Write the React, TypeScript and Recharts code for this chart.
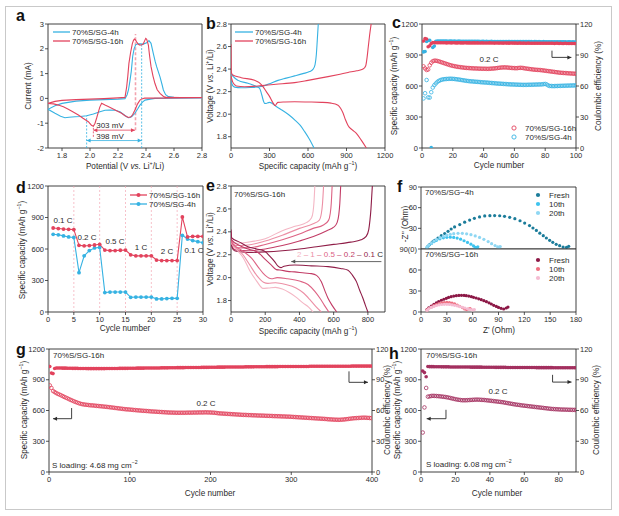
import React from 'react';
import {
  LineChart, Line, ScatterChart, Scatter, XAxis, YAxis,
  ReferenceLine, ReferenceArea, ReferenceDot,
} from 'recharts';

const FONT = '"Liberation Sans", Arial, Helvetica, sans-serif';
const INK = '#2b2b2b';
const BLUE = '#36b2e2';
const RED = '#e2435d';
const MAROON = '#a3305f';

// ---------- a: CV curves (potential V, current mA), in scan order
const aBlue = [
  [1.7, -0.44], [1.75, -0.3], [1.8, -0.2], [1.9, -0.11], [2.0, -0.07], [2.1, -0.05], [2.2, -0.03], [2.25, -0.01],
  [2.265, 0.15], [2.275, 0.35], [2.285, 0.7], [2.295, 1.1], [2.305, 1.7], [2.315, 2.0], [2.326, 2.16], [2.34, 2.2],
  [2.357, 2.2], [2.38, 2.19], [2.405, 2.24], [2.421, 2.33], [2.436, 2.22], [2.452, 1.82], [2.465, 1.5], [2.476, 1.28],
  [2.5, 0.87], [2.515, 0.55], [2.524, 0.34], [2.54, 0.15], [2.56, 0.07], [2.6, 0.04], [2.7, 0.03], [2.8, 0.03],
  [2.8, 0.02], [2.6, 0.01], [2.464, 0.0], [2.43, -0.03], [2.393, -0.07], [2.375, -0.15], [2.357, -0.27], [2.34, -0.43],
  [2.321, -0.6], [2.3, -0.72], [2.286, -0.77], [2.274, -0.78], [2.262, -0.74], [2.24, -0.65], [2.214, -0.54], [2.18, -0.48],
  [2.14, -0.47], [2.107, -0.48], [2.071, -0.54], [2.024, -0.63], [1.976, -0.7], [1.93, -0.73], [1.893, -0.74], [1.85, -0.76],
  [1.821, -0.78], [1.79, -0.72], [1.75, -0.6], [1.7, -0.44],
];
const aRed = [
  [1.7, -0.2], [1.75, -0.12], [1.8, -0.08], [1.9, -0.05], [2.0, -0.03], [2.1, -0.01], [2.2, 0.02], [2.25, 0.04],
  [2.262, 0.47], [2.27, 0.9], [2.278, 1.41], [2.29, 1.85], [2.302, 2.2], [2.31, 2.33], [2.317, 2.39], [2.325, 2.36],
  [2.333, 2.28], [2.345, 2.18], [2.357, 2.15], [2.37, 2.16], [2.38, 2.19], [2.39, 2.32], [2.398, 2.42], [2.405, 2.38],
  [2.417, 2.15], [2.426, 1.7], [2.436, 1.28], [2.45, 0.9], [2.464, 0.6], [2.48, 0.35], [2.5, 0.2], [2.525, 0.08],
  [2.548, 0.04], [2.65, 0.03], [2.8, 0.03],
  [2.6, 0.02], [2.45, 0.01], [2.39, 0.01], [2.37, -0.02], [2.357, -0.07], [2.34, -0.22], [2.321, -0.47], [2.305, -0.65],
  [2.293, -0.74], [2.274, -0.77], [2.25, -0.7], [2.226, -0.6], [2.19, -0.5], [2.155, -0.4], [2.13, -0.33], [2.107, -0.27],
  [2.09, -0.22], [2.083, -0.2], [2.07, -0.35], [2.06, -0.54], [2.048, -0.78], [2.036, -1.0], [2.024, -1.12], [2.01, -1.08],
  [1.988, -0.94], [1.95, -0.8], [1.917, -0.67], [1.88, -0.55], [1.845, -0.44], [1.81, -0.34], [1.774, -0.27], [1.74, -0.22],
  [1.7, -0.2],
];

// ---------- b: charge / discharge profiles (mAh/g, V)
const bBlueCharge = [[0, 2.3], [10, 2.26], [29, 2.24], [80, 2.235], [150, 2.237], [236, 2.245], [300, 2.27], [366, 2.3], [430, 2.32], [496, 2.34], [560, 2.36], [613, 2.378], [640, 2.4], [655, 2.44], [665, 2.53], [672, 2.65], [680, 2.8]];
const bBlueDis = [[0, 2.36], [20, 2.33], [55, 2.3], [132, 2.274], [190, 2.25], [223, 2.23], [240, 2.17], [255, 2.11], [262, 2.096], [275, 2.095], [283, 2.1], [301, 2.105], [350, 2.07], [392, 2.04], [450, 1.995], [496, 1.95], [540, 1.9], [574, 1.845], [610, 1.78], [647, 1.7]];
const bRedCharge = [[0, 2.34], [15, 2.28], [42, 2.25], [106, 2.244], [236, 2.253], [350, 2.265], [496, 2.28], [600, 2.3], [756, 2.333], [850, 2.355], [912, 2.37], [980, 2.385], [1029, 2.4], [1050, 2.43], [1060, 2.5], [1070, 2.6], [1080, 2.7], [1092, 2.8]];
const bRedDis = [[0, 2.62], [2, 2.38], [10, 2.35], [80, 2.324], [184, 2.3], [220, 2.28], [249, 2.245], [275, 2.2], [301, 2.156], [325, 2.105], [345, 2.076], [356, 2.095], [366, 2.105], [420, 2.108], [496, 2.11], [600, 2.108], [704, 2.105], [780, 2.098], [834, 2.08], [855, 2.05], [873, 2.01], [892, 1.95], [912, 1.9], [945, 1.86], [977, 1.83], [1015, 1.77], [1055, 1.7]];

// ---------- c: cycling at 0.2 C, cycles 1..100
const cRedCap = [
  790, 770, 755, 760, 800, 825, 840, 845, 845, 842,
  838, 833, 828, 823, 818, 813, 808, 803, 799, 795,
  792, 789, 786, 784, 782, 780, 778, 776, 775, 774,
  773, 772, 771, 770, 770, 769, 768, 768, 767, 767,
  767, 766, 766, 767, 768, 769, 770, 772, 774, 776,
  778, 779, 780, 780, 779, 778, 776, 775, 774, 773,
  772, 773, 775, 776, 775, 773, 770, 768, 766, 764,
  762, 760, 758, 757, 756, 755, 754, 752, 750, 748,
  746, 744, 742, 740, 738, 736, 734, 732, 730, 728,
  727, 726, 725, 724, 723, 722, 721, 720, 719, 718,
];
const cBlueCap = [
  480, 530, 658, 490, 488, 540, 585, 608, 625, 640,
  650, 657, 662, 665, 667, 668, 669, 670, 670, 669,
  668, 666, 664, 662, 660, 657, 655, 652, 650, 648,
  646, 645, 644, 642, 641, 640, 639, 637, 636, 635,
  634, 633, 632, 630, 629, 628, 627, 625, 624, 623,
  622, 621, 620, 619, 618, 617, 616, 615, 615, 614,
  613, 613, 612, 612, 611, 611, 611, 611, 612, 612,
  612, 613, 613, 614, 614, 615, 615, 616, 618, 620,
  615, 605, 600, 600, 599, 599, 600, 600, 601, 601,
  602, 602, 603, 603, 604, 604, 605, 605, 606, 606,
];
const cRedCE = [
  103.5, 106, 105.5, 98, 99, 101.2, 102, 102, 101.9, 101.9,
  101.8, 101.8, 101.9, 101.8, 101.8, 101.7, 101.8, 101.8, 101.7, 101.8,
  101.8, 101.7, 101.7, 101.8, 101.7, 101.7, 101.7, 101.8, 101.7, 101.7,
  101.7, 101.6, 101.7, 101.7, 101.6, 101.7, 101.6, 101.6, 101.7, 101.6,
  101.6, 101.6, 101.6, 101.7, 101.6, 101.6, 101.5, 101.6, 101.6, 101.5,
  101.6, 101.5, 101.5, 101.6, 101.5, 101.5, 101.5, 101.6, 101.5, 101.5,
  101.5, 101.4, 101.5, 101.5, 101.4, 101.5, 101.4, 101.4, 101.5, 101.4,
  101.4, 101.4, 101.4, 101.3, 101.4, 101.4, 101.3, 101.4, 101.3, 101.3,
  101.3, 101.3, 101.4, 101.3, 101.3, 101.2, 101.3, 101.3, 101.2, 101.3,
  101.2, 101.2, 101.3, 101.2, 101.2, 101.2, 101.1, 101.2, 101.2, 101.1,
];
const cBlueCE = [
  93, 93.4, 103, 104, 104.2, 0.5, 97.2, 98.6, 103.2, 103.5,
  103.4, 103.5, 103.4, 103.4, 103.5, 103.4, 103.3, 103.4, 103.4, 103.3,
  103.4, 103.3, 103.3, 103.4, 103.3, 103.3, 103.2, 103.3, 103.3, 103.2,
  103.3, 103.2, 103.2, 103.3, 103.2, 103.2, 103.2, 103.1, 103.2, 103.2,
  103.1, 103.2, 103.1, 103.1, 103.2, 103.1, 103.1, 103.1, 103.0, 103.1,
  103.1, 103.0, 103.1, 103.0, 103.0, 103.1, 103.0, 103.0, 103.0, 102.9,
  103.0, 103.0, 102.9, 103.0, 102.9, 102.9, 103.0, 102.9, 102.9, 102.9,
  102.9, 102.8, 102.9, 102.9, 102.8, 102.9, 102.8, 102.8, 102.9, 102.8,
  102.8, 102.8, 102.7, 102.8, 102.8, 102.7, 102.8, 102.7, 102.7, 102.8,
  102.7, 102.7, 102.7, 102.6, 102.7, 102.7, 102.6, 102.7, 102.6, 102.6,
];

// ---------- d: rate capability, cycles 1..30
const dRed = [800, 795, 790, 787, 785, 635, 630, 633, 638, 645, 590, 585, 585, 588, 590, 545, 535, 535, 535, 535, 495, 490, 490, 490, 490, 905, 715, 720, 720, 720];
const dBlue = [740, 735, 725, 715, 710, 375, 535, 585, 610, 615, 185, 190, 190, 190, 190, 140, 142, 142, 142, 142, 125, 125, 128, 130, 130, 730, 695, 680, 670, 660];
const dRates = [5, 10, 15, 20, 25];

// ---------- e: 70%S/SG-16h profiles at 2, 1, 0.5, 0.2, 0.1 C
const eRates = ['2', '1', '0.5', '0.2', '0.1'];
const eColors = ['#f4b6c4', '#ec8fa5', '#dd6384', '#c23c66', '#8f1d47'];
const eDis = [
  [[0, 2.36], [3, 2.3], [30, 2.25], [73, 2.17], [110, 2.06], [150, 1.97], [187, 1.906], [220, 1.91], [260, 1.915], [300, 1.9], [340, 1.87], [380, 1.83], [420, 1.78], [455, 1.74], [480, 1.7]],
  [[0, 2.37], [3, 2.3], [30, 2.26], [70, 2.2], [110, 2.11], [150, 2.02], [190, 1.96], [216, 1.95], [260, 1.955], [320, 1.94], [380, 1.91], [420, 1.87], [460, 1.81], [495, 1.75], [528, 1.7]],
  [[0, 2.38], [3, 2.31], [40, 2.26], [80, 2.22], [120, 2.17], [160, 2.09], [200, 2.02], [236, 1.99], [270, 2.0], [330, 1.99], [400, 1.97], [450, 1.94], [490, 1.88], [520, 1.82], [545, 1.76], [572, 1.7]],
  [[0, 2.4], [3, 2.33], [50, 2.28], [100, 2.25], [158, 2.22], [200, 2.16], [236, 2.11], [265, 2.07], [285, 2.067], [330, 2.055], [372, 2.05], [430, 2.04], [469, 2.035], [500, 2.02], [528, 1.965], [550, 1.88], [567, 1.82], [590, 1.76], [618, 1.7]],
  [[0, 2.42], [3, 2.35], [50, 2.31], [99, 2.27], [150, 2.25], [197, 2.23], [225, 2.19], [255, 2.14], [275, 2.1], [292, 2.087], [310, 2.1], [372, 2.11], [470, 2.103], [567, 2.096], [640, 2.08], [684, 2.065], [710, 2.02], [733, 1.965], [752, 1.89], [771, 1.82], [785, 1.76], [800, 1.7]],
];
const eCharge = [
  [[0, 2.34], [10, 2.32], [30, 2.3], [100, 2.31], [200, 2.34], [300, 2.41], [380, 2.45], [440, 2.48], [470, 2.52], [480, 2.58], [485, 2.66], [490, 2.8]],
  [[0, 2.33], [10, 2.3], [30, 2.28], [100, 2.285], [200, 2.32], [300, 2.37], [400, 2.43], [480, 2.47], [515, 2.5], [528, 2.56], [535, 2.65], [541, 2.8]],
  [[0, 2.32], [10, 2.28], [30, 2.26], [100, 2.26], [200, 2.29], [300, 2.33], [400, 2.38], [480, 2.43], [540, 2.46], [570, 2.5], [580, 2.56], [586, 2.65], [591, 2.8]],
  [[0, 2.31], [10, 2.26], [30, 2.24], [100, 2.235], [200, 2.25], [300, 2.28], [400, 2.32], [500, 2.37], [560, 2.41], [600, 2.44], [620, 2.48], [630, 2.55], [636, 2.65], [641, 2.8]],
  [[0, 2.3], [10, 2.25], [30, 2.23], [100, 2.22], [200, 2.225], [300, 2.235], [400, 2.25], [500, 2.27], [600, 2.29], [700, 2.31], [760, 2.33], [790, 2.36], [805, 2.42], [812, 2.5], [818, 2.6], [822, 2.7], [826, 2.8]],
];

// ---------- f: Nyquist plots (Z', -Z'')
const f4hFresh = [[8, 3.9], [10, 6.5], [12, 8.7], [14, 11], [15.9, 12.6], [19.7, 16], [23.6, 19.4], [27.5, 22.5], [31.4, 25.6], [35, 29], [39, 32], [45, 35.5], [50.7, 39], [56.5, 42], [62, 44.5], [68, 46.5], [74, 48], [80, 48.4], [85.5, 48.5], [91.4, 48.3], [97, 47.4], [103, 46], [109, 44], [115, 41], [120.4, 37.7], [126, 34], [130, 30.5], [134, 27], [138, 23], [142, 19.4], [145.6, 16], [149.4, 12.6], [153, 9.7], [157, 6.8], [161, 4.8], [165, 2.9], [169, 2.4], [171.5, 3.9]];
const f4h10 = [[7, 2.5], [9, 5], [12, 8], [15, 10.5], [18, 12.6], [22, 14.8], [26, 16.2], [30, 17], [34, 17.2], [38, 16.8], [42, 15.8], [46, 14.2], [50, 12], [54, 9.5], [58, 7], [61, 4.5], [63, 2.5], [65, 2.2], [66, 3.2]];
const f4h20 = [[7, 2.5], [9, 5.5], [12, 8.5], [15, 11.5], [18, 14], [22, 16.5], [26, 18.5], [30, 20], [34, 21.3], [38, 22.2], [43, 22.8], [48, 22.7], [53, 22], [58, 20.8], [63, 19], [68, 16.8], [73, 14], [78, 10.8], [82, 7.8], [86, 5], [89, 3], [91, 2.8], [92, 3.5]];
const f16Fresh = [[7, 3.5], [9, 6], [12, 8.5], [15, 11], [17.8, 12.9], [20.5, 15], [23.6, 16.7], [26.5, 18.2], [29.4, 19.5], [32, 20.8], [35, 21.9], [38, 22.7], [41, 23.3], [44, 23.7], [47, 23.8], [50, 23.7], [52.6, 23.3], [55.5, 22.7], [58.5, 21.9], [61, 21], [64, 20], [67, 18.8], [70, 17.6], [73, 16.2], [76, 14.8], [79, 13.1], [81.7, 11.4], [84.5, 9.6], [87.5, 8], [90, 6.5], [93, 5.2], [96, 4.3], [99, 5.7], [101, 7]];
const f16_10 = [[7, 3], [9, 5], [12, 7], [15, 9], [17.8, 10.5], [21, 12], [24, 12.9], [27, 13.5], [30, 13.8], [33, 13.5], [36, 12.7], [39, 11.5], [42, 10], [45, 8.2], [48, 6.3], [50.7, 4.3], [53, 3.5], [55, 4.3], [57, 5]];
const f16_20 = [[7, 2.5], [9, 4.5], [12, 6.5], [15, 8], [18, 9.3], [21, 10.2], [24, 10.7], [27, 11], [30, 11], [33, 10.8], [36, 10.3], [39, 9.6], [42, 8.8], [45, 7.8], [48, 6.8], [51, 5.7], [54, 4.6], [57, 3.6], [60, 3], [62, 3.4]];
const fBlues = ['#1b7c9a', '#3ec3ee', '#8fd7f3'];
const fReds = ['#8c1846', '#ef6f80', '#f5bcd2'];
const fLabels = ['Fresh', '10th', '20th'];

// ---------- g: 400 cycles, 4.68 mg cm-2 (every 2nd cycle: 1, 3, ... 399)
const gStep = 2;
const gCap = [
  845, 820, 790, 780, 770, 762, 755, 748, 740, 732,
  725, 718, 710, 703, 696, 689, 683, 677, 671, 666,
  662, 659, 657, 655, 653, 651, 650, 649, 647, 645,
  644, 642, 641, 639, 637, 636, 634, 632, 630, 628,
  626, 624, 622, 620, 618, 616, 614, 612, 611, 610,
  608, 607, 605, 604, 602, 601, 600, 598, 597, 596,
  595, 594, 592, 591, 590, 589, 588, 587, 586, 585,
  584, 583, 582, 581, 580, 580, 579, 579, 578, 578,
  578, 578, 578, 578, 578, 579, 579, 579, 579, 580,
  580, 580, 581, 581, 581, 581, 582, 582, 581, 581,
  580, 579, 578, 576, 574, 572, 571, 570, 569, 568,
  567, 566, 565, 564, 563, 562, 561, 560, 559, 558,
  557, 557, 556, 555, 555, 554, 553, 553, 552, 551,
  551, 550, 550, 549, 548, 548, 547, 547, 546, 545,
  545, 544, 544, 543, 542, 542, 541, 540, 540, 539,
  538, 537, 536, 535, 534, 533, 532, 531, 530, 529,
  528, 527, 526, 525, 524, 523, 522, 521, 520, 519,
  518, 517, 515, 514, 513, 512, 511, 510, 510, 509,
  510, 511, 512, 514, 516, 518, 520, 522, 524, 525,
  526, 527, 528, 529, 530, 530, 529, 528, 527, 526,
];
const gCE = [
  103, 96.5, 96, 101, 101.5, 101.5, 101.4, 101.4, 101.3, 101.3,
  101.3, 101.2, 101.2, 101.2, 101.1, 101.1, 101.1, 101.1, 101.0, 101.0,
  101.0, 101.0, 101.0, 100.9, 100.9, 100.9, 100.9, 100.9, 100.9, 100.9,
  100.9, 100.9, 100.9, 100.9, 100.9, 101.0, 101.0, 101.0, 101.0, 101.0,
  101.0, 101.0, 101.0, 101.1, 101.1, 101.1, 101.1, 101.1, 101.1, 101.2,
  101.2, 101.2, 101.2, 101.2, 101.3, 101.3, 101.3, 101.3, 101.3, 101.4,
  101.4, 101.4, 101.4, 101.4, 101.5, 101.5, 101.5, 101.5, 101.5, 101.6,
  101.6, 101.6, 101.6, 101.6, 101.7, 101.7, 101.7, 101.7, 101.7, 101.8,
  101.8, 101.8, 101.8, 101.8, 101.9, 101.9, 101.9, 101.9, 101.9, 102.0,
  102.0, 102.0, 102.0, 102.0, 102.1, 102.1, 102.1, 102.1, 102.1, 102.2,
  102.2, 102.2, 102.2, 102.2, 102.3, 102.3, 102.3, 102.3, 102.3, 102.4,
  102.4, 102.4, 102.4, 102.4, 102.4, 102.5, 102.5, 102.5, 102.5, 102.5,
  102.5, 102.6, 102.6, 102.6, 102.6, 102.6, 102.6, 102.7, 102.7, 102.7,
  102.7, 102.7, 102.7, 102.7, 102.8, 102.8, 102.8, 102.8, 102.8, 102.8,
  102.8, 102.8, 102.9, 102.9, 102.9, 102.9, 102.9, 102.9, 102.9, 102.9,
  103.0, 103.0, 103.0, 103.0, 103.0, 103.0, 103.0, 103.0, 103.0, 103.0,
  103.0, 103.1, 103.1, 103.1, 103.1, 103.1, 103.1, 103.1, 103.1, 103.1,
  103.1, 103.1, 103.1, 103.2, 103.2, 103.2, 103.2, 103.2, 103.2, 103.2,
  103.2, 103.2, 103.2, 103.2, 103.2, 103.2, 103.2, 103.3, 103.3, 103.3,
  103.3, 103.3, 103.3, 103.3, 103.3, 103.3, 103.3, 103.3, 103.3, 103.3,
];

// ---------- h: 90 cycles, 6.08 mg cm-2
const hCap = [
  385, 630, 820, 735, 738, 742, 743, 742, 741, 740,
  738, 736, 734, 732, 729, 726, 722, 718, 714, 710,
  707, 704, 702, 700, 700, 700, 701, 702, 703, 704,
  705, 706, 706, 705, 704, 703, 702, 700, 698, 696,
  694, 692, 690, 688, 686, 684, 682, 679, 676, 673,
  670, 667, 664, 661, 658, 656, 654, 651, 649, 647,
  645, 643, 641, 639, 637, 635, 633, 631, 629, 627,
  625, 623, 621, 619, 617, 615, 614, 613, 612, 611,
  610, 609, 609, 608, 608, 607, 607, 606, 606, 605,
];
const hCE = [
  98.5, 97, 93, 103, 102.8, 102.8, 102.8, 102.7, 102.7, 102.7,
  102.7, 102.6, 102.6, 102.6, 102.6, 102.6, 102.5, 102.5, 102.5, 102.5,
  102.5, 102.5, 102.4, 102.4, 102.4, 102.4, 102.4, 102.4, 102.3, 102.3,
  102.3, 102.3, 102.3, 102.3, 102.3, 102.2, 102.2, 102.2, 102.2, 102.2,
  102.2, 102.2, 102.1, 102.1, 102.1, 102.1, 102.1, 102.1, 102.1, 102.0,
  102.0, 102.0, 102.0, 102.0, 102.0, 102.0, 102.0, 101.9, 101.9, 101.9,
  101.9, 101.9, 101.9, 101.9, 101.9, 101.9, 101.8, 101.8, 101.8, 101.8,
  101.8, 101.8, 101.8, 101.8, 101.8, 101.8, 101.7, 101.7, 101.7, 101.7,
  101.7, 101.7, 101.7, 101.7, 101.7, 101.7, 101.7, 101.7, 101.7, 101.7,
];

// ---------- helpers
const pts = (a: number[][]) => a.map(([x, y]) => ({ x, y }));
const byCycle = (v: number[], step = 1) => v.map((y, i) => ({ x: 1 + i * step, y }));

type Box = { x0: number; y0: number; x1: number; y1: number };
const YW = 36;
const XH = 22;
const PAD = 4;
const RP = 14;
const RYW = 34;

function frame(b: Box, opt: { right?: boolean; noX?: boolean } = {}) {
  const rw = opt.right ? RYW : RP;
  return {
    left: b.x0 - YW,
    top: b.y0 - PAD,
    width: b.x1 - b.x0 + YW + rw,
    height: b.y1 - b.y0 + PAD + (opt.noX ? 0 : XH),
    margin: { top: PAD, right: opt.right ? 0 : RP, bottom: 0, left: 0 },
  };
}

const tickFont = { fontSize: 7.5, fill: INK };
const xAx = (domain: number[], ticks: number[], fmt?: (v: number) => string) => (
  <XAxis type="number" dataKey="x" domain={domain} ticks={ticks} interval={0} allowDataOverflow
    axisLine={false} tickLine={{ stroke: INK, strokeWidth: 0.8 }} tickSize={3} tickMargin={2}
    tick={tickFont} height={XH} tickFormatter={fmt} />
);
const yAx = (domain: number[], ticks: number[], fmt?: (v: number) => string) => (
  <YAxis type="number" dataKey="y" domain={domain} ticks={ticks} interval={0} allowDataOverflow
    axisLine={false} tickLine={{ stroke: INK, strokeWidth: 0.8 }} tickSize={3} tickMargin={1}
    tick={tickFont} width={YW} tickFormatter={fmt} />
);
const yRight = () => (
  <YAxis yAxisId="r" orientation="right" type="number" dataKey="y" domain={[0, 120]} ticks={[0, 30, 60, 90, 120]}
    interval={0} allowDataOverflow axisLine={false} tickLine={{ stroke: INK, strokeWidth: 0.8 }} tickSize={3}
    tickMargin={1} tick={tickFont} width={RYW} />
);
const border = (xd: number[], yd: number[]) => (
  <ReferenceArea x1={xd[0]} x2={xd[1]} y1={yd[0]} y2={yd[1]} fill="none" stroke={INK} strokeWidth={0.9} />
);
const dotShape = (color: string, open: boolean, r: number) => (p: any) => (
  <circle cx={p.cx} cy={p.cy} r={r} fill={open ? 'none' : color} stroke={color} strokeWidth={open ? 0.8 : 0} />
);
const head = (dir: 'l' | 'r', color: string) => (p: any) => {
  const { cx, cy } = p;
  const d = dir === 'r'
    ? `M${cx},${cy}L${cx - 4},${cy - 2}L${cx - 4},${cy + 2}Z`
    : `M${cx},${cy}L${cx + 4},${cy - 2}L${cx + 4},${cy + 2}Z`;
  return <path d={d} fill={color} />;
};
const fmt1 = (v: number) => v.toFixed(1);

function Txt({ x, y, s = 8, c = INK, center = false, children }: any) {
  return (
    <div style={{ position: 'absolute', left: x, top: y, fontSize: s, color: c, lineHeight: 1, whiteSpace: 'nowrap', transform: center ? 'translate(-50%,-50%)' : 'translateY(-50%)' }}>
      {children}
    </div>
  );
}
function VTxt({ x, y, s = 8.2, children }: any) {
  return (
    <div style={{ position: 'absolute', left: x, top: y, fontSize: s, color: INK, lineHeight: 1, whiteSpace: 'nowrap', transform: 'translate(-50%,-50%) rotate(-90deg)' }}>
      {children}
    </div>
  );
}
function Letter({ x, y, ch }: any) {
  return <div style={{ position: 'absolute', left: x, top: y, fontSize: 16, fontWeight: 700, lineHeight: 1, color: '#111' }}>{ch}</div>;
}
function LegLine({ x, y, w, color, dot, label }: any) {
  return (
    <div style={{ position: 'absolute', left: x, top: y - 5, height: 10, display: 'flex', alignItems: 'center', fontSize: 8, color: INK, whiteSpace: 'nowrap' }}>
      <svg width={w} height={10}>
        <line x1={0} y1={5} x2={w} y2={5} stroke={color} strokeWidth={1.3} />
        {dot && <circle cx={w / 2} cy={5} r={2} fill={color} />}
      </svg>
      <span style={{ marginLeft: 2 }}>{label}</span>
    </div>
  );
}
function LegDot({ x, y, color, open, label, gap = 8 }: any) {
  return (
    <div style={{ position: 'absolute', left: x - 3, top: y - 5, height: 10, display: 'flex', alignItems: 'center', fontSize: 8, color: INK, whiteSpace: 'nowrap' }}>
      <svg width={6} height={10}>
        <circle cx={3} cy={5} r={2.1} fill={open ? 'none' : color} stroke={color} strokeWidth={open ? 0.9 : 0} />
      </svg>
      <span style={{ marginLeft: gap }}>{label}</span>
    </div>
  );
}
const sup = (t: string) => <sup style={{ fontSize: '65%', lineHeight: 0 }}>{t}</sup>;
const capTitle = <>Specific capacity (mAh g{sup('−1')})</>;
const voltTitle = <>Voltage (V <i>vs.</i> Li{sup('+')}/Li)</>;

const A: Box = { x0: 48, y0: 24, x1: 202, y1: 148 };
const B: Box = { x0: 231, y0: 24, x1: 385, y1: 148 };
const C: Box = { x0: 422, y0: 24, x1: 576, y1: 148 };
const D: Box = { x0: 48, y0: 186, x1: 203, y1: 312 };
const E: Box = { x0: 231, y0: 186, x1: 385, y1: 312 };
const FT: Box = { x0: 421, y0: 187, x1: 576, y1: 249 };
const FB: Box = { x0: 421, y0: 249, x1: 576, y1: 312 };
const G: Box = { x0: 49, y0: 349, x1: 372, y1: 472 };
const H: Box = { x0: 421, y0: 349, x1: 576, y1: 472 };

function PanelA() {
  const f = frame(A);
  return (
    <>
      <div style={{ position: 'absolute', left: f.left, top: f.top }}>
        <LineChart width={f.width} height={f.height} margin={f.margin}>
          {xAx([1.7, 2.8], [1.8, 2.0, 2.2, 2.4, 2.6, 2.8], fmt1)}
          {yAx([-2, 3], [-2, -1, 0, 1, 2, 3])}
          {border([1.7, 2.8], [-2, 3])}
          <ReferenceLine segment={[{ x: 2.325, y: -1.28 }, { x: 2.325, y: 2.6 }]} stroke="#f3a3ae" strokeWidth={1.6} strokeDasharray="3 2" />
          <ReferenceLine segment={[{ x: 2.024, y: -1.55 }, { x: 2.024, y: -1.12 }]} stroke={RED} strokeWidth={0.8} strokeDasharray="2 1.5" />
          <ReferenceLine segment={[{ x: 1.976, y: -2 }, { x: 1.976, y: -0.7 }]} stroke={BLUE} strokeWidth={0.8} strokeDasharray="2 1.5" />
          <ReferenceLine segment={[{ x: 2.369, y: -2 }, { x: 2.369, y: 2.2 }]} stroke={BLUE} strokeWidth={0.8} strokeDasharray="2 1.5" />
          <ReferenceLine segment={[{ x: 2.024, y: -1.28 }, { x: 2.321, y: -1.28 }]} stroke={RED} strokeWidth={0.8} />
          <ReferenceLine segment={[{ x: 1.976, y: -1.7 }, { x: 2.369, y: -1.7 }]} stroke={BLUE} strokeWidth={0.8} />
          <ReferenceDot x={2.024} y={-1.28} shape={head('l', RED)} />
          <ReferenceDot x={2.321} y={-1.28} shape={head('r', RED)} />
          <ReferenceDot x={1.976} y={-1.7} shape={head('l', BLUE)} />
          <ReferenceDot x={2.369} y={-1.7} shape={head('r', BLUE)} />
          <Line data={pts(aBlue)} dataKey="y" type="linear" stroke={BLUE} strokeWidth={1.1} dot={false} isAnimationActive={false} />
          <Line data={pts(aRed)} dataKey="y" type="linear" stroke={RED} strokeWidth={1.1} dot={false} isAnimationActive={false} />
        </LineChart>
      </div>
      <Letter x={16} y={8} ch="a" />
      <LegLine x={53} y={32} w={17} color={BLUE} label="70%S/SG-4h" />
      <LegLine x={53} y={41} w={17} color={RED} label="70%S/SG-16h" />
      <Txt x={110} y={126} center>303 mV</Txt>
      <Txt x={110} y={137} center>398 mV</Txt>
      <VTxt x={29} y={86}>Current (mA)</VTxt>
      <Txt x={125} y={167} s={8.2} center>Potential (V <i>vs.</i> Li{sup('+')}/Li)</Txt>
    </>
  );
}

function PanelB() {
  const f = frame(B);
  return (
    <>
      <div style={{ position: 'absolute', left: f.left, top: f.top }}>
        <LineChart width={f.width} height={f.height} margin={f.margin}>
          {xAx([0, 1200], [0, 300, 600, 900, 1200])}
          {yAx([1.7, 2.8], [1.8, 2.0, 2.2, 2.4, 2.6, 2.8], fmt1)}
          {border([0, 1200], [1.7, 2.8])}
          <Line data={pts(bBlueCharge)} dataKey="y" type="monotone" stroke={BLUE} strokeWidth={1.1} dot={false} isAnimationActive={false} />
          <Line data={pts(bBlueDis)} dataKey="y" type="monotone" stroke={BLUE} strokeWidth={1.1} dot={false} isAnimationActive={false} />
          <Line data={pts(bRedCharge)} dataKey="y" type="monotone" stroke={RED} strokeWidth={1.1} dot={false} isAnimationActive={false} />
          <Line data={pts(bRedDis)} dataKey="y" type="monotone" stroke={RED} strokeWidth={1.1} dot={false} isAnimationActive={false} />
        </LineChart>
      </div>
      <Letter x={206} y={16} ch="b" />
      <LegLine x={235} y={32} w={18} color={BLUE} label="70%S/SG-4h" />
      <LegLine x={235} y={41} w={18} color={RED} label="70%S/SG-16h" />
      <VTxt x={211} y={86}>{voltTitle}</VTxt>
      <Txt x={308} y={167} s={8.2} center>{capTitle}</Txt>
    </>
  );
}

function PanelC() {
  const f = frame(C, { right: true });
  return (
    <>
      <div style={{ position: 'absolute', left: f.left, top: f.top }}>
        <ScatterChart width={f.width} height={f.height} margin={f.margin}>
          {xAx([0, 100], [0, 20, 40, 60, 80, 100])}
          {yAx([0, 1200], [0, 300, 600, 900, 1200])}
          {yRight()}
          {border([0, 100], [0, 1200])}
          <ReferenceLine segment={[{ x: 84.4, y: 942 }, { x: 84.4, y: 877 }]} stroke={INK} strokeWidth={0.9} />
          <ReferenceLine segment={[{ x: 84.4, y: 877 }, { x: 97, y: 877 }]} stroke={INK} strokeWidth={0.9} />
          <ReferenceDot x={97} y={877} shape={head('r', INK)} />
          <Scatter data={byCycle(cRedCap)} shape={dotShape(RED, true, 1.8)} isAnimationActive={false} />
          <Scatter data={byCycle(cBlueCap)} shape={dotShape(BLUE, true, 1.8)} isAnimationActive={false} />
          <Scatter yAxisId="r" data={byCycle(cBlueCE)} shape={dotShape(BLUE, false, 1.8)} isAnimationActive={false} />
          <Scatter yAxisId="r" data={byCycle(cRedCE)} shape={dotShape(RED, false, 1.8)} isAnimationActive={false} />
        </ScatterChart>
      </div>
      <Letter x={392} y={15} ch="c" />
      <Txt x={489} y={60} center>0.2 C</Txt>
      <LegDot x={514} y={128} color={RED} open label="70%S/SG-16h" />
      <LegDot x={514} y={137} color={BLUE} open label="70%S/SG-4h" />
      <VTxt x={395} y={86}>{capTitle}</VTxt>
      <VTxt x={599} y={86}>Coulombic efficiency (%)</VTxt>
      <Txt x={499} y={166} s={8.2} center>Cycle number</Txt>
    </>
  );
}

function PanelD() {
  const f = frame(D);
  return (
    <>
      <div style={{ position: 'absolute', left: f.left, top: f.top }}>
        <LineChart width={f.width} height={f.height} margin={f.margin}>
          {xAx([0, 30], [0, 5, 10, 15, 20, 25, 30])}
          {yAx([0, 1200], [0, 300, 600, 900, 1200])}
          {border([0, 30], [0, 1200])}
          {dRates.map((c) => (
            <ReferenceLine key={c} x={c} stroke="#f4a7b5" strokeWidth={0.7} strokeDasharray="2 2" />
          ))}
          <Line data={byCycle(dBlue)} dataKey="y" type="linear" stroke={BLUE} strokeWidth={1.1} dot={{ r: 1.9, fill: BLUE, stroke: BLUE, strokeWidth: 0 }} isAnimationActive={false} />
          <Line data={byCycle(dRed)} dataKey="y" type="linear" stroke={RED} strokeWidth={1.1} dot={{ r: 1.9, fill: RED, stroke: RED, strokeWidth: 0 }} isAnimationActive={false} />
        </LineChart>
      </div>
      <Letter x={16} y={180} ch="d" />
      <LegLine x={130} y={195} w={17} color={RED} dot label="70%S/SG-16h" />
      <LegLine x={130} y={204} w={17} color={BLUE} dot label="70%S/SG-4h" />
      <Txt x={63} y={221} center>0.1 C</Txt>
      <Txt x={87} y={238} center>0.2 C</Txt>
      <Txt x={115} y={242} center>0.5 C</Txt>
      <Txt x={141} y={248} center>1 C</Txt>
      <Txt x={167} y={252} center>2 C</Txt>
      <Txt x={194} y={251} center>0.1 C</Txt>
      <VTxt x={23} y={250}>{capTitle}</VTxt>
      <Txt x={125} y={329} s={8.2} center>Cycle number</Txt>
    </>
  );
}

function PanelE() {
  const f = frame(E);
  return (
    <>
      <div style={{ position: 'absolute', left: f.left, top: f.top }}>
        <LineChart width={f.width} height={f.height} margin={f.margin}>
          {xAx([0, 900], [0, 200, 400, 600, 800])}
          {yAx([1.7, 2.8], [1.8, 2.0, 2.2, 2.4, 2.6, 2.8], fmt1)}
          {border([0, 900], [1.7, 2.8])}
          {eRates.map((r, i) => (
            <Line key={'c' + r} data={pts(eCharge[i])} dataKey="y" type="monotone" stroke={eColors[i]} strokeWidth={1.1} dot={false} isAnimationActive={false} />
          ))}
          {eRates.map((r, i) => (
            <Line key={'d' + r} data={pts(eDis[i])} dataKey="y" type="monotone" stroke={eColors[i]} strokeWidth={1.1} dot={false} isAnimationActive={false} />
          ))}
          <ReferenceLine segment={[{ x: 352, y: 2.14 }, { x: 879, y: 2.14 }]} stroke="#555" strokeWidth={0.9} />
          <ReferenceDot x={352} y={2.14} shape={head('l', '#555')} />
        </LineChart>
      </div>
      <Letter x={206} y={178} ch="e" />
      <Txt x={234} y={194.5}>70%S/SG-16h</Txt>
      <Txt x={297} y={255}>
        {eRates.map((r, i) => (
          <span key={r} style={{ color: eColors[i] }}>{i > 0 ? ' – ' : ''}{r}</span>
        ))}
        <span style={{ color: INK }}> C</span>
      </Txt>
      <VTxt x={211} y={249}>{voltTitle}</VTxt>
      <Txt x={308} y={332} s={8.2} center>{capTitle}</Txt>
    </>
  );
}

function PanelF() {
  const ft = frame(FT, { noX: true });
  const fb = frame(FB);
  const top = [f4hFresh, f4h10, f4h20];
  const bot = [f16Fresh, f16_10, f16_20];
  return (
    <>
      <div style={{ position: 'absolute', left: ft.left, top: ft.top }}>
        <ScatterChart width={ft.width} height={ft.height} margin={ft.margin}>
          <XAxis type="number" dataKey="x" domain={[0, 180]} hide allowDataOverflow />
          {yAx([0, 90], [30, 60, 90])}
          {border([0, 180], [0, 90])}
          {top.map((s, i) => (
            <Scatter key={i} data={pts(s)} shape={dotShape(fBlues[i], false, 1.6)} isAnimationActive={false} />
          ))}
        </ScatterChart>
      </div>
      <div style={{ position: 'absolute', left: fb.left, top: fb.top }}>
        <ScatterChart width={fb.width} height={fb.height} margin={fb.margin}>
          {xAx([0, 180], [0, 30, 60, 90, 120, 150, 180])}
          {yAx([0, 90], [0, 30, 60, 90], (v) => (v === 90 ? '90(0)' : String(v)))}
          {border([0, 180], [0, 90])}
          {bot.map((s, i) => (
            <Scatter key={i} data={pts(s)} shape={dotShape(fReds[i], false, 1.6)} isAnimationActive={false} />
          ))}
        </ScatterChart>
      </div>
      <Letter x={397} y={179} ch="f" />
      <Txt x={425} y={193}>70%S/SG−4h</Txt>
      <Txt x={425} y={254.5}>70%S/SG−16h</Txt>
      {fLabels.map((l, i) => (
        <LegDot key={'t' + l} x={538} y={195 + i * 9.2} color={fBlues[i]} label={l} />
      ))}
      {fLabels.map((l, i) => (
        <LegDot key={'b' + l} x={538} y={260 + i * 9.2} color={fReds[i]} label={l} />
      ))}
      <VTxt x={406} y={224}>-Z'' (Ohm)</VTxt>
      <Txt x={499} y={331} s={8.2} center>Z' (Ohm)</Txt>
    </>
  );
}

function PanelG() {
  const f = frame(G, { right: true });
  return (
    <>
      <div style={{ position: 'absolute', left: f.left, top: f.top }}>
        <ScatterChart width={f.width} height={f.height} margin={f.margin}>
          {xAx([0, 400], [0, 100, 200, 300, 400])}
          {yAx([0, 1200], [0, 300, 600, 900, 1200])}
          {yRight()}
          {border([0, 400], [0, 1200])}
          <ReferenceLine segment={[{ x: 28, y: 624 }, { x: 28, y: 520 }]} stroke={INK} strokeWidth={0.9} />
          <ReferenceLine segment={[{ x: 28, y: 520 }, { x: 5, y: 520 }]} stroke={INK} strokeWidth={0.9} />
          <ReferenceDot x={5} y={520} shape={head('l', INK)} />
          <ReferenceLine segment={[{ x: 371.5, y: 982 }, { x: 371.5, y: 875 }]} stroke={INK} strokeWidth={0.9} />
          <ReferenceLine segment={[{ x: 371.5, y: 875 }, { x: 395, y: 875 }]} stroke={INK} strokeWidth={0.9} />
          <ReferenceDot x={395} y={875} shape={head('r', INK)} />
          <Scatter data={byCycle(gCap, gStep)} shape={dotShape(RED, true, 1.8)} isAnimationActive={false} />
          <Scatter yAxisId="r" data={byCycle(gCE, gStep)} shape={dotShape(RED, false, 1.8)} isAnimationActive={false} />
        </ScatterChart>
      </div>
      <Letter x={16} y={342} ch="g" />
      <Txt x={53} y={355.5}>70%S/SG-16h</Txt>
      <Txt x={206} y={404} center>0.2 C</Txt>
      <Txt x={52} y={465.5}>S loading: 4.68 mg cm{sup('−2')}</Txt>
      <VTxt x={25} y={410}>{capTitle}</VTxt>
      <VTxt x={388} y={410}>Coulombic efficiency (%)</VTxt>
      <Txt x={210} y={494} s={8.2} center>Cycle number</Txt>
    </>
  );
}

function PanelH() {
  const f = frame(H, { right: true });
  return (
    <>
      <div style={{ position: 'absolute', left: f.left, top: f.top }}>
        <ScatterChart width={f.width} height={f.height} margin={f.margin}>
          {xAx([0, 90], [0, 20, 40, 60, 80])}
          {yAx([0, 1200], [0, 300, 600, 900, 1200])}
          {yRight()}
          {border([0, 90], [0, 1200])}
          <ReferenceLine segment={[{ x: 14.5, y: 607 }, { x: 14.5, y: 520 }]} stroke={INK} strokeWidth={0.9} />
          <ReferenceLine segment={[{ x: 14.5, y: 520 }, { x: 3.3, y: 520 }]} stroke={INK} strokeWidth={0.9} />
          <ReferenceDot x={3.3} y={520} shape={head('l', INK)} />
          <ReferenceLine segment={[{ x: 76.4, y: 948 }, { x: 76.4, y: 877 }]} stroke={INK} strokeWidth={0.9} />
          <ReferenceLine segment={[{ x: 76.4, y: 877 }, { x: 87.4, y: 877 }]} stroke={INK} strokeWidth={0.9} />
          <ReferenceDot x={87.4} y={877} shape={head('r', INK)} />
          <Scatter data={byCycle(hCap)} shape={dotShape(MAROON, true, 1.8)} isAnimationActive={false} />
          <Scatter yAxisId="r" data={byCycle(hCE)} shape={dotShape(MAROON, false, 1.8)} isAnimationActive={false} />
        </ScatterChart>
      </div>
      <Letter x={389} y={346} ch="h" />
      <Txt x={426} y={355.5}>70%S/SG-16h</Txt>
      <Txt x={498} y={392} center>0.2 C</Txt>
      <Txt x={426} y={465}>S loading: 6.08 mg cm{sup('−2')}</Txt>
      <VTxt x={398} y={410}>{capTitle}</VTxt>
      <VTxt x={597} y={410}>Coulombic efficiency (%)</VTxt>
      <Txt x={497} y={494} s={8.2} center>Cycle number</Txt>
    </>
  );
}

export default function App() {
  return (
    <div style={{ position: 'absolute', left: 0, top: 0, width: 619, height: 516, background: '#fff', fontFamily: FONT, color: INK, overflow: 'hidden' }}>
      <div style={{ position: 'absolute', left: 5, top: 6, width: 607, height: 504, border: '1px solid #c9c9c9', boxSizing: 'border-box' }} />
      <PanelA />
      <PanelB />
      <PanelC />
      <PanelD />
      <PanelE />
      <PanelF />
      <PanelG />
      <PanelH />
    </div>
  );
}
